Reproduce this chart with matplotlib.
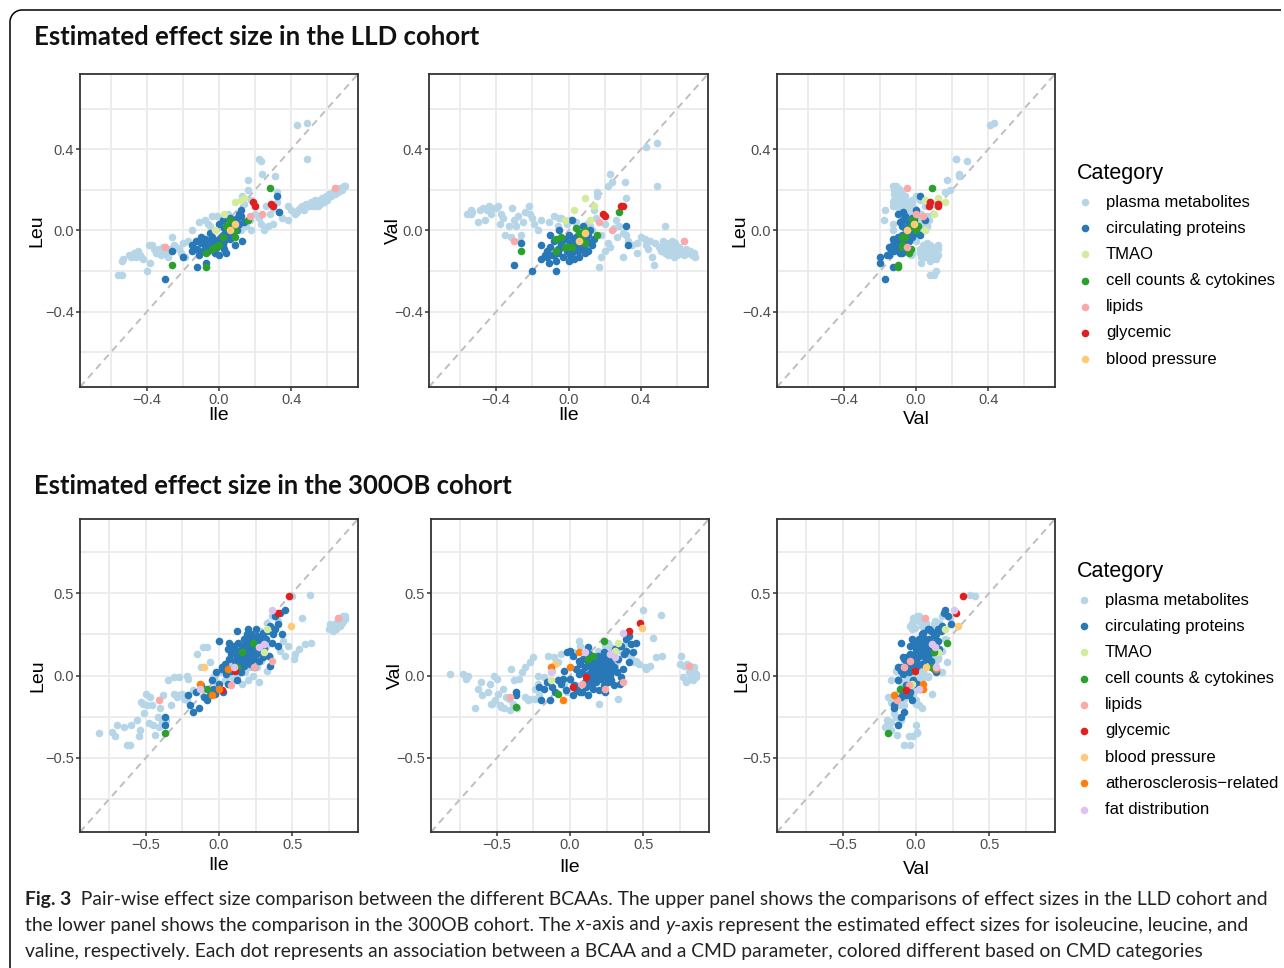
import matplotlib
matplotlib.use("Agg")
import matplotlib.pyplot as plt
from matplotlib.patches import Arc
import numpy as np

# ---------------- data: each association = (Ile, Leu, Val) effect sizes ----------------
LLD_PLASMA = [
    (-0.56, -0.22, 0.08), (-0.54, -0.22, 0.10), (-0.54, -0.15, 0.08), (-0.53, -0.14, 0.09),
    (-0.50, -0.12, 0.04), (-0.49, -0.13, 0.10), (-0.47, -0.11, 0.11), (-0.46, -0.13, 0.05),
    (-0.44, -0.12, 0.12), (-0.42, -0.14, 0.11), (-0.40, -0.20, 0.11), (-0.39, -0.07, 0.12),
    (-0.38, -0.16, 0.03), (-0.37, -0.07, 0.08), (-0.35, -0.11, -0.02), (-0.33, -0.09, 0.02),
    (-0.32, -0.12, -0.03), (-0.31, -0.08, 0.11), (-0.30, -0.10, 0.05), (-0.28, -0.13, 0.07),
    (-0.27, -0.09, -0.05), (-0.26, -0.03, -0.02), (-0.25, -0.07, 0.04), (-0.24, -0.08, 0.09),
    (-0.22, -0.09, 0.12), (-0.21, -0.11, 0.08), (-0.20, -0.06, 0.06), (-0.19, -0.13, 0.03),
    (-0.17, -0.05, 0.00), (-0.15, 0.00, 0.05), (-0.11, 0.04, 0.04), (-0.08, 0.05, 0.07),
    (-0.06, 0.03, 0.02), (-0.04, 0.07, 0.06), (-0.01, 0.07, 0.03),
    (-0.45, -0.10, 0.10), (-0.43, -0.13, 0.08), (-0.36, -0.09, 0.06), (-0.29, -0.11, 0.02),
    (0.22, 0.35, 0.22), (0.23, 0.34, 0.28), (0.24, 0.28, 0.24), (0.31, 0.27, 0.24),
    (0.16, 0.25, 0.17), (0.16, 0.20, 0.19), (0.32, 0.19, 0.16),
    (0.43, 0.52, 0.41), (0.49, 0.53, 0.43), (0.49, 0.35, 0.22),
    (0.18, 0.15, -0.02), (0.14, 0.13, 0.10), (0.26, 0.12, 0.05), (0.30, 0.11, -0.01),
    (0.33, 0.09, -0.05), (0.38, 0.12, -0.11), (0.20, 0.08, 0.03), (0.23, 0.03, -0.08),
    (0.27, 0.02, -0.03), (0.30, 0.03, -0.13), (0.35, 0.06, -0.07), (0.15, 0.02, 0.06),
    (0.12, 0.00, 0.02), (0.18, 0.00, -0.13), (0.25, 0.00, 0.01), (0.10, 0.05, 0.03),
    (0.05, 0.08, 0.01), (0.01, 0.06, 0.05), (0.08, 0.03, -0.05), (0.17, 0.05, -0.18),
    (0.22, 0.06, -0.06), (0.28, 0.08, 0.02), (0.20, 0.12, -0.10), (-0.05, 0.02, 0.06),
    (0.04, 0.00, 0.04), (0.13, 0.17, 0.00), (0.32, 0.14, -0.02),
    (0.38, 0.05, -0.06), (0.40, 0.10, -0.03), (0.43, 0.09, -0.07), (0.45, 0.11, -0.05),
    (0.46, 0.12, -0.13), (0.47, 0.10, -0.17), (0.48, 0.13, -0.06), (0.50, 0.12, -0.08),
    (0.51, 0.14, -0.10), (0.52, 0.13, -0.05), (0.53, 0.15, 0.02), (0.54, 0.14, -0.09),
    (0.55, 0.12, -0.11), (0.56, 0.15, -0.07), (0.57, 0.16, -0.10), (0.58, 0.14, -0.13),
    (0.59, 0.17, -0.06), (0.60, 0.16, -0.09), (0.61, 0.18, -0.08), (0.62, 0.17, -0.11),
    (0.63, 0.19, -0.10), (0.64, 0.18, -0.12), (0.65, 0.20, -0.09), (0.66, 0.19, -0.11),
    (0.67, 0.21, -0.10), (0.68, 0.20, -0.12), (0.69, 0.22, -0.11), (0.70, 0.22, -0.13),
    (0.52, 0.12, -0.07), (0.53, 0.13, -0.11), (0.54, 0.12, -0.06), (0.55, 0.14, -0.12),
    (0.56, 0.13, -0.08), (0.57, 0.14, -0.05), (0.58, 0.15, -0.10), (0.60, 0.15, -0.12),
    (0.44, 0.10, -0.09), (0.42, 0.08, -0.04),
]
LLD_PROTEINS = [
    (-0.30, -0.24, -0.17), (-0.26, -0.10, -0.06), (-0.20, -0.13, -0.20), (-0.15, -0.07, -0.07),
    (-0.12, -0.18, -0.13), (-0.07, -0.16, -0.20), (0.04, -0.11, -0.09), (0.13, -0.05, -0.07),
    (0.32, 0.17, 0.02), (0.33, 0.09, -0.07), (0.12, 0.10, 0.00), (0.10, 0.06, -0.02),
    (-0.12, -0.09, -0.10), (-0.10, -0.06, -0.08), (-0.09, -0.10, -0.12), (-0.08, -0.04, -0.05),
    (-0.07, -0.08, -0.15), (-0.06, -0.05, -0.11), (-0.05, -0.09, -0.09), (-0.04, -0.03, -0.06),
    (-0.03, -0.07, -0.13), (-0.02, -0.05, -0.04), (-0.01, -0.08, -0.10), (0.00, -0.04, -0.08),
    (0.00, 0.03, -0.02), (0.01, -0.06, -0.12), (0.02, -0.02, -0.05), (0.03, -0.05, -0.07),
    (0.04, 0.00, -0.03), (0.05, -0.03, -0.10), (0.06, 0.01, -0.06), (0.07, -0.02, -0.08),
    (0.08, 0.02, -0.04), (0.09, 0.04, -0.09), (0.10, 0.00, -0.05), (0.11, 0.03, -0.02),
    (0.12, 0.07, -0.06), (-0.10, -0.03, -0.02), (-0.05, -0.01, 0.00), (0.02, 0.05, 0.05),
    (-0.15, -0.10, -0.14), (-0.11, -0.12, -0.16), (0.00, -0.12, -0.15), (0.08, -0.02, 0.02),
    (0.06, 0.06, -0.01), (0.03, -0.09, -0.14), (-0.02, -0.11, -0.08), (0.14, 0.04, -0.04),
    (0.09, -0.07, -0.11), (-0.13, -0.05, -0.12),
    (-0.04, -0.06, -0.07), (0.01, -0.03, -0.06), (0.05, 0.02, -0.08), (0.03, 0.01, -0.04),
    (-0.06, -0.10, -0.09), (0.08, 0.05, -0.07), (0.11, 0.08, -0.10), (0.02, -0.07, -0.11),
    (-0.08, -0.07, -0.12), (0.06, -0.04, -0.13),
]
LLD_TMAO = [(0.09, 0.14, 0.16), (0.14, 0.16, 0.12), (0.03, 0.08, 0.10), (-0.02, 0.00, 0.05),
            (0.12, 0.15, 0.05)]
LLD_CELLS = [
    (0.28, 0.21, 0.09), (-0.26, -0.17, -0.10), (-0.07, -0.18, -0.10), (-0.07, -0.11, -0.04),
    (0.16, 0.05, -0.02), (0.06, 0.05, -0.01), (0.04, 0.02, 0.01), (0.02, -0.03, -0.08),
    (0.00, -0.07, -0.08), (-0.02, -0.08, -0.08), (0.09, -0.03, -0.06), (0.09, 0.00, 0.00),
    (0.07, 0.01, -0.04), (-0.04, -0.09, -0.03),
]
LLD_LIPIDS = [(-0.30, -0.08, -0.05), (0.64, 0.21, -0.05), (0.17, 0.07, 0.04), (0.24, 0.08, 0.00)]
LLD_GLYCEMIC = [(0.19, 0.14, 0.08), (0.20, 0.12, 0.07), (0.29, 0.13, 0.12), (0.30, 0.12, 0.12)]
LLD_BP = [(0.06, 0.00, -0.05), (0.09, 0.03, -0.01)]

OB_PLASMA = [
    (-0.82, -0.35, 0.01), (-0.73, -0.34, 0.01), (-0.71, -0.37, -0.02), (-0.70, -0.30, 0.00),
    (-0.65, -0.31, -0.20), (-0.63, -0.42, -0.08), (-0.61, -0.42, -0.04), (-0.60, -0.30, -0.12),
    (-0.56, -0.27, -0.10), (-0.55, -0.37, -0.05), (-0.54, -0.33, -0.17), (-0.53, -0.16, -0.17),
    (-0.52, -0.17, 0.00), (-0.51, -0.23, -0.15), (-0.50, -0.11, -0.02), (-0.49, -0.18, -0.11),
    (-0.48, -0.29, -0.18), (-0.47, -0.13, -0.19), (-0.46, -0.18, -0.08), (-0.45, -0.30, -0.20),
    (-0.44, -0.36, -0.13), (-0.42, -0.25, -0.14), (-0.41, -0.31, -0.21), (-0.40, -0.20, 0.04),
    (-0.39, -0.28, -0.17), (-0.38, -0.12, -0.03), (-0.36, -0.27, -0.20), (-0.35, -0.03, -0.02),
    (-0.33, -0.18, 0.02), (-0.31, -0.01, 0.05), (-0.29, -0.13, -0.15), (-0.27, -0.01, 0.08),
    (-0.25, -0.11, 0.11), (-0.24, -0.13, -0.14), (-0.22, -0.15, 0.00),
    (-0.31, -0.11, -0.13), (-0.27, -0.12, -0.14), (-0.24, -0.14, -0.08), (-0.22, 0.00, -0.05),
    (-0.21, -0.02, -0.12), (-0.18, -0.09, -0.01), (-0.15, 0.13, 0.12), (-0.12, 0.05, 0.03),
    (-0.11, 0.17, 0.11), (-0.08, 0.17, 0.08), (-0.06, 0.08, 0.13), (-0.04, -0.01, -0.06),
    (-0.02, -0.04, -0.10), (0.00, 0.02, -0.03), (0.02, 0.05, 0.14), (0.04, -0.03, -0.06),
    (0.06, 0.08, 0.21), (0.07, 0.02, 0.18), (0.09, 0.06, 0.10), (0.10, -0.02, 0.01),
    (0.12, 0.00, 0.08), (0.13, 0.04, -0.03), (0.15, 0.07, 0.12), (0.16, -0.05, 0.02),
    (0.18, 0.02, 0.05), (0.19, 0.10, 0.15), (0.20, -0.03, -0.17), (0.21, 0.05, 0.00),
    (0.22, 0.12, 0.03), (0.23, 0.00, 0.07), (0.24, 0.15, 0.18), (0.25, 0.08, 0.05),
    (0.26, 0.22, 0.20), (0.27, -0.04, 0.01), (0.28, 0.27, 0.17), (0.29, 0.09, 0.12),
    (0.30, 0.25, 0.14), (0.31, 0.13, 0.06), (0.33, 0.32, 0.16), (0.33, 0.03, -0.14),
    (0.35, 0.11, 0.15), (0.36, 0.36, 0.18), (0.38, 0.28, 0.20), (0.40, 0.33, 0.13),
    (0.42, 0.15, 0.12), (0.44, 0.21, 0.08), (0.45, 0.12, 0.09), (0.47, 0.18, 0.07),
    (0.50, 0.48, 0.40), (0.62, 0.49, 0.37), (0.57, 0.35, 0.23), (0.55, 0.16, 0.06),
    (0.52, 0.13, 0.04), (0.51, 0.10, 0.05), (0.59, 0.19, 0.11), (0.63, 0.20, 0.12),
    (0.75, 0.28, 0.07), (0.76, 0.31, 0.12), (0.77, 0.29, -0.01), (0.78, 0.27, 0.06),
    (0.79, 0.30, -0.04), (0.80, 0.32, 0.07), (0.80, 0.28, -0.03), (0.81, 0.33, 0.02),
    (0.82, 0.31, 0.06), (0.82, 0.35, -0.02), (0.83, 0.30, 0.04), (0.84, 0.34, 0.00),
    (0.84, 0.32, -0.03), (0.85, 0.36, 0.02), (0.85, 0.33, 0.05), (0.86, 0.34, -0.01),
    (0.86, 0.36, 0.01),
    (0.14, 0.10, 0.04), (0.17, 0.12, 0.09), (0.20, 0.06, 0.11), (0.26, 0.05, 0.02),
    (0.11, 0.03, -0.06), (0.08, 0.00, 0.02), (0.28, 0.12, 0.10), (0.32, 0.18, 0.09),
]
OB_PROTEINS = [
    (-0.37, -0.25, -0.10), (-0.37, -0.30, -0.12), (-0.20, -0.18, -0.15), (-0.18, -0.22, -0.08),
    (-0.14, -0.20, -0.15), (-0.12, -0.06, -0.07), (-0.10, -0.13, -0.10), (-0.08, -0.15, -0.03),
    (-0.06, -0.12, -0.05), (-0.05, -0.03, -0.02), (-0.04, -0.08, 0.03), (-0.03, -0.11, -0.09),
    (-0.02, 0.02, 0.14), (0.00, 0.21, 0.15), (0.00, -0.05, -0.02), (0.02, 0.04, 0.12),
    (0.03, -0.10, -0.06), (0.04, 0.07, 0.04), (0.05, 0.01, -0.09), (0.06, -0.05, 0.01),
    (0.07, 0.10, 0.07), (0.08, 0.13, 0.02), (0.08, 0.03, -0.10), (0.09, 0.16, 0.10),
    (0.10, 0.05, -0.04), (0.10, 0.18, 0.05), (0.11, 0.09, -0.07), (0.12, 0.12, 0.08),
    (0.12, -0.03, -0.12), (0.13, 0.20, 0.13), (0.14, 0.08, -0.02), (0.15, 0.14, 0.03),
    (0.15, 0.02, -0.05), (0.16, 0.18, 0.09), (0.16, 0.10, -0.08), (0.17, 0.06, 0.01),
    (0.17, 0.22, 0.06), (0.18, 0.13, -0.04), (0.18, 0.09, 0.10), (0.19, 0.16, 0.00),
    (0.19, 0.25, 0.12), (0.20, 0.11, -0.09), (0.20, 0.28, 0.08), (0.21, 0.07, 0.05),
    (0.21, 0.19, -0.02), (0.22, 0.14, 0.11), (0.22, 0.25, 0.04), (0.23, 0.10, -0.06),
    (0.23, 0.17, 0.14), (0.24, 0.21, 0.02), (0.24, 0.05, -0.10), (0.25, 0.28, 0.09),
    (0.25, 0.13, 0.06), (0.26, 0.18, -0.04), (0.26, 0.24, 0.13), (0.27, 0.09, 0.00),
    (0.28, 0.15, 0.07), (0.28, 0.22, -0.03), (0.29, 0.19, 0.11), (0.30, 0.26, 0.05),
    (0.30, 0.11, -0.06), (0.31, 0.16, 0.16), (0.32, 0.22, 0.02), (0.33, 0.27, 0.10),
    (0.34, 0.12, -0.05), (0.35, 0.30, 0.18), (0.36, 0.20, 0.04), (0.37, 0.25, 0.13),
    (0.38, 0.36, 0.22), (0.38, 0.28, 0.15), (0.40, 0.31, 0.24), (0.40, 0.18, 0.08),
    (0.42, 0.38, 0.19), (0.43, 0.25, 0.14), (0.45, 0.40, 0.20), (0.35, 0.06, -0.01),
    (0.12, 0.27, 0.17), (0.06, 0.16, 0.09), (0.07, 0.20, -0.10), (0.02, 0.05, -0.12),
    (-0.21, -0.12, -0.07), (-0.16, -0.10, -0.04),
    (0.16, 0.15, 0.05), (0.18, 0.18, 0.03), (0.20, 0.15, 0.07), (0.21, 0.12, 0.02),
    (0.22, 0.18, 0.08), (0.23, 0.13, -0.01), (0.24, 0.16, 0.05), (0.25, 0.20, 0.10),
    (0.26, 0.14, 0.01), (0.27, 0.17, 0.04), (0.19, 0.20, 0.06), (0.17, 0.12, -0.02),
    (0.14, 0.11, 0.06), (0.29, 0.14, 0.03), (0.13, 0.15, 0.01), (0.21, 0.22, 0.09),
]
OB_TMAO = [(0.31, 0.14, 0.15), (0.33, 0.28, 0.20), (-0.13, -0.05, -0.03)]
OB_CELLS = [(-0.37, -0.35, -0.19), (0.23, 0.20, 0.21), (-0.08, -0.08, -0.11), (0.12, 0.05, 0.10),
            (0.16, 0.14, 0.12)]
OB_LIPIDS = [(-0.41, -0.15, -0.13), (0.36, 0.09, -0.04), (0.24, 0.05, -0.08), (0.81, 0.35, 0.06),
             (0.08, -0.06, -0.05)]
OB_GLYCEMIC = [(0.48, 0.48, 0.32), (0.40, 0.38, 0.27), (0.02, -0.09, -0.07), (0.11, 0.03, -0.01)]
OB_BP = [(0.49, 0.30, 0.29), (-0.10, 0.05, 0.07)]
OB_ATHERO = [(-0.05, -0.12, -0.15), (0.06, 0.04, 0.14), (0.00, -0.08, 0.05), (-0.13, -0.05, 0.05)]
OB_FAT = [(0.36, 0.40, 0.26), (0.31, 0.19, 0.11), (0.27, 0.17, 0.13), (-0.13, -0.08, 0.02),
          (0.10, 0.05, 0.14)]

CATEGORIES = ["plasma metabolites", "circulating proteins", "TMAO", "cell counts & cytokines",
              "lipids", "glycemic", "blood pressure", "atherosclerosis\u2212related",
              "fat distribution"]
COLORS = ["#B6D6E8", "#2878B8", "#D2EB9C", "#2CA02C", "#FBA8A8", "#DF2020", "#FFCA78",
          "#FF7F0E", "#DCC4EE"]
LLD_DATA = [LLD_PLASMA, LLD_PROTEINS, LLD_TMAO, LLD_CELLS, LLD_LIPIDS, LLD_GLYCEMIC, LLD_BP]
OB_DATA = [OB_PLASMA, OB_PROTEINS, OB_TMAO, OB_CELLS, OB_LIPIDS, OB_GLYCEMIC, OB_BP,
           OB_ATHERO, OB_FAT]

AMINO = ["Ile", "Leu", "Val"]
PAIRS = [(0, 1), (0, 2), (2, 1)]   # (x index, y index)

LLD_TICKS = [-0.4, 0.0, 0.4]
LLD_MINOR = [-0.6, -0.2, 0.2, 0.6]
LLD_TICKLABELS = ["\u22120.4", "0.0", "0.4"]
OB_TICKS = [-0.5, 0.0, 0.5]
OB_MINOR = [-0.75, -0.25, 0.25, 0.75]
OB_TICKLABELS = ["\u22120.5", "0.0", "0.5"]

# ---------------- figure ----------------
W, H = 1284, 968
fig = plt.figure(figsize=(W / 100, H / 100), dpi=100)
PANEL_FONT = "Liberation Sans"
TITLE_FONT = "Lato"
DOT_S = 30

ov = fig.add_axes([0, 0, 1, 1])
ov.set_xlim(0, W)
ov.set_ylim(H, 0)
ov.axis("off")

# frame (rounded top-left corner)
ov.plot([22, 1281], [10, 10], color="black", lw=1.1, solid_capstyle="butt")
ov.plot([10, 10], [22, 968], color="black", lw=1.1, solid_capstyle="butt")
ov.add_patch(Arc((22, 22), 24, 24, theta1=180, theta2=270, color="black", lw=1.1))

renderer = fig.canvas.get_renderer()


def fit_text(x, y, s, target_w, **kw):
    t = ov.text(x, y, s, va="center", ha="left", **kw)
    w = t.get_window_extent(renderer).width
    t.set_fontsize(t.get_fontsize() * target_w / w)
    return t


fit_text(34, 37, "Estimated effect size in the LLD cohort", 446,
         family=TITLE_FONT, fontweight="bold", fontsize=16, color="#111111")
fit_text(34, 486, "Estimated effect size in the 300OB cohort", 479,
         family=TITLE_FONT, fontweight="bold", fontsize=16, color="#111111")


def px_rect(x0, x1, y0, y1):
    return [x0 / W, 1 - y1 / H, (x1 - x0) / W, (y1 - y0) / H]


def draw_panel(rect, datasets, pair, lim, ticks, minor, ticklabels, xlab_y, ylab_x):
    ax = fig.add_axes(rect)
    ax.set_xlim(-lim, lim)
    ax.set_ylim(-lim, lim)
    ax.set_xticks(ticks)
    ax.set_yticks(ticks)
    ax.set_xticks(minor, minor=True)
    ax.set_yticks(minor, minor=True)
    ax.set_xticklabels(ticklabels, family=PANEL_FONT, fontsize=10.5, color="#4D4D4D")
    ax.set_yticklabels(ticklabels, family=PANEL_FONT, fontsize=10.5, color="#4D4D4D")
    ax.tick_params(which="major", length=3, width=1.1, color="#333333", pad=1.5)
    ax.tick_params(which="minor", length=0)
    ax.grid(True, which="both", color="#EBEBEB", lw=1.3)
    ax.set_axisbelow(True)
    for sp in ax.spines.values():
        sp.set_color("#333333")
        sp.set_linewidth(1.3)
    ax.axline((0, 0), slope=1, color="#BEBEBE", lw=1.4, ls=(0, (3.6, 2.6)), zorder=1.5)
    xi, yi = pair
    for data, col in zip(datasets, COLORS):
        arr = np.array(data)
        ax.scatter(arr[:, xi], arr[:, yi], s=DOT_S, color=col, linewidths=0, zorder=2)
    x0 = rect[0] * W
    wpx = rect[2] * W
    ybot = (1 - rect[1]) * H
    hpx = rect[3] * H
    ax.set_xlabel(AMINO[xi], family=PANEL_FONT, fontsize=14)
    ax.set_ylabel(AMINO[yi], family=PANEL_FONT, fontsize=14)
    ax.xaxis.set_label_coords(0.5, -(xlab_y - ybot) / hpx)
    ax.yaxis.set_label_coords((ylab_x - x0) / wpx, 0.5)
    ax.xaxis.label.set_va("center")
    ax.yaxis.label.set_va("center")
    return ax


upper_x = [(80, 358), (429, 708), (777, 1055)]
lower_x = [(80, 358), (431, 709), (777, 1055)]
upper_xlab = [415, 416, 419]
lower_xlab = [865, 868, 870]
upper_ylab = [37, 393, 740]
lower_ylab = [38, 395, 742]

for i, pair in enumerate(PAIRS):
    draw_panel(px_rect(upper_x[i][0], upper_x[i][1], 74, 387), LLD_DATA, pair, 0.77,
               LLD_TICKS, LLD_MINOR, LLD_TICKLABELS, upper_xlab[i], upper_ylab[i])
    draw_panel(px_rect(lower_x[i][0], lower_x[i][1], 519, 832), OB_DATA, pair, 0.95,
               OB_TICKS, OB_MINOR, OB_TICKLABELS, lower_xlab[i], lower_ylab[i])

# ---------------- legends ----------------
def draw_legend(title_y, first_y, n, dot_x, text_x):
    ov.text(1077, title_y, "Category", family=PANEL_FONT, fontsize=15.5, va="center",
            ha="left", color="black")
    for k in range(n):
        yy = first_y + 26.2 * k
        ov.scatter([dot_x], [yy], s=DOT_S, color=COLORS[k], linewidths=0)
        ov.text(text_x, yy, CATEGORIES[k], family=PANEL_FONT, fontsize=12, va="center",
                ha="left", color="black")


draw_legend(174, 202, len(LLD_DATA), 1085, 1106)
draw_legend(571, 600, len(OB_DATA), 1084, 1105)

# ---------------- caption ----------------
CAP_FONT = "Lato"
cap_lines = [
    [("Fig. 3", "bold", "normal"),
     ("  Pair-wise effect size comparison between the different BCAAs. The upper panel shows the comparisons of effect sizes in the LLD cohort and", "normal", "normal")],
    [("the lower panel shows the comparison in the 300OB cohort. The ", "normal", "normal"),
     ("x", "normal", "italic"), ("-axis and ", "normal", "normal"), ("y", "normal", "italic"),
     ("-axis represent the estimated effect sizes for isoleucine, leucine, and", "normal", "normal")],
    [("valine, respectively. Each dot represents an association between a BCAA and a CMD parameter, colored different based on CMD categories", "normal", "normal")],
]
cap_y = [899, 925, 951]


def draw_runs(x, y, runs, size):
    objs = []
    cx = x
    for s, wt, st in runs:
        t = ov.text(cx, y, s, family=CAP_FONT, fontweight=wt, fontstyle=st, fontsize=size,
                    va="center", ha="left", color="#222222")
        bb = t.get_window_extent(renderer)
        cx += bb.width
        objs.append(t)
    return objs, cx - x


objs, w0 = draw_runs(25, cap_y[0], cap_lines[0], 13)
for o in objs:
    o.remove()
cap_size = 13 * 1245 / w0
for line, yy in zip(cap_lines, cap_y):
    draw_runs(25, yy, line, cap_size)

fig.savefig("out.png", dpi=100)
